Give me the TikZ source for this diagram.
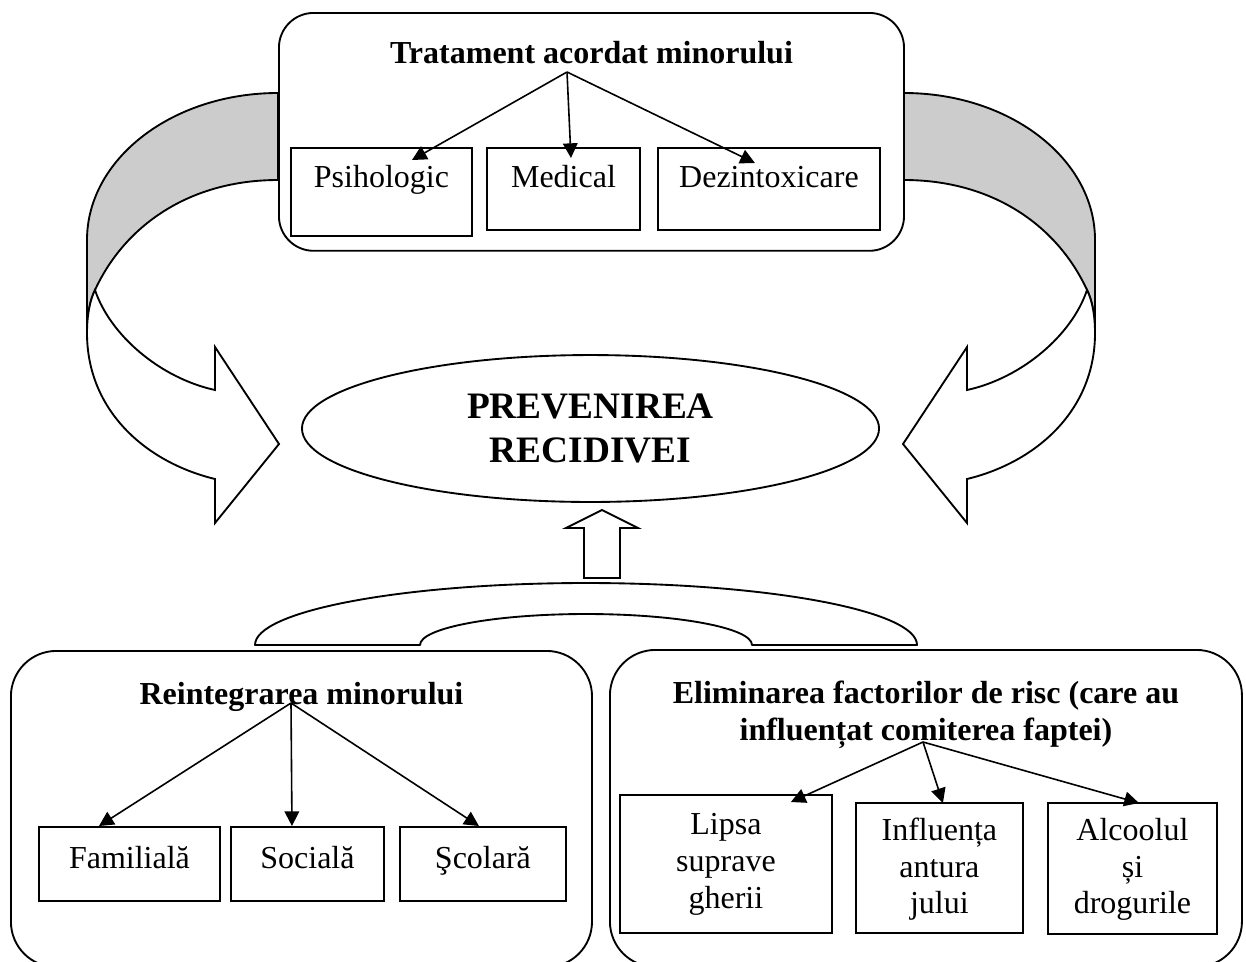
\documentclass[tikz,border=0pt]{standalone}
\usepackage{fontspec}
\setmainfont{Liberation Serif}
\usetikzlibrary{arrows.meta}
\usetikzlibrary{calc}
\usetikzlibrary{shapes}

\begin{document}
\begin{tikzpicture}[x=0.375pt, y=-0.375pt, line width=0.7pt,
        font=\fontsize{12}{13.8}\selectfont,
        frame_style/.style={draw, fill=white, rounded corners=#1, anchor=north west, inner sep=0pt, align=center, font=\fontsize{12}{13.9}\selectfont\bfseries},
        box_style/.style={draw, fill=white, anchor=north west, inner sep=0pt, align=center},
        goal_style/.style={ellipse, draw, fill=white, minimum width=216.4pt, minimum height=55.1pt, inner sep=0pt, align=center, font=\fontsize{14}{16.5}\selectfont\bfseries},
        band_style/.style={draw, fill=gray!40, line join=round},
        turn_style/.style={draw, fill=white, line join=miter},
        edge_style/.style={draw=black, line width=0.6pt, -{Triangle[length=5.5pt,width=5.5pt]}}]

        \useasboundingbox (0,0) rectangle (1246,961);
        \clip (0,0) rectangle (1246,961);
        \fill[white] (0,0) rectangle (1246,961);

        % curved arrows, left one and its mirror
        \foreach \side/\sh in {1/0,-1/1182}{
            \begin{scope}[shift={(\sh,0)}, xscale=\side]
                \path[band_style] (278,93) .. controls (172.5,93) and (87,158.8) .. (87,240) -- (87,333)
                    .. controls (87,315) and (90,300) .. (95,290) .. controls (125,225) and (190,180) .. (278,180) -- cycle;
                \path[turn_style] (95,290) .. controls (110,335) and (160,378) .. (215,390) -- (215,347) -- (279,444)
                    -- (215,523) -- (215,479) .. controls (145,462) and (87,410) .. (87,333)
                    .. controls (87,315) and (90,300) .. (95,290) -- cycle;
            \end{scope}
        }

        \node[frame_style=13pt, minimum width=234.4pt, text height=19.1pt, text depth=70.1pt] (treat) at (278,12) {Tratament acordat minorului};
        \node[frame_style=17pt, minimum width=217.9pt, text height=20.25pt, text depth=98.3pt] (reint) at (10,650) {Reintegrarea minorului};
        \node[frame_style=17pt, minimum width=237pt, text height=34.1pt, text depth=84.75pt] (elim) at (609,649) {Eliminarea factorilor de risc (care au\\influențat comiterea faptei)};

        \node[box_style, minimum width=67.9pt, text height=15pt, text depth=18pt] (psih) at (290,147) {Psihologic};
        \node[box_style, minimum width=57.4pt, text height=15pt, text depth=15.75pt] (med) at (486,147) {Medical};
        \node[box_style, minimum width=83.25pt, text height=15pt, text depth=15.75pt] (dez) at (657,147) {Dezintoxicare};

        \node[box_style, minimum width=67.9pt, text height=15.4pt, text depth=12.4pt] (fam) at (38,826) {Familială};
        \node[box_style, minimum width=57.4pt, text height=15.4pt, text depth=12.4pt] (soc) at (230,826) {Socială};
        \node[box_style, minimum width=62.25pt, text height=15.4pt, text depth=12.4pt] (scol) at (399,826) {Şcolară};

        \node[box_style, minimum width=79.5pt, text height=42.4pt, text depth=9.4pt] (lips) at (619,794) {Lipsa\\suprave\\gherii};
        \node[box_style, minimum width=62.6pt, text height=41.6pt, text depth=7.1pt] (infl) at (855,802) {Influența\\antura\\jului};
        \node[box_style, minimum width=63.4pt, text height=41.6pt, text depth=7.5pt] (alc) at (1047,802) {Alcoolul\\și\\drogurile};

        \node[goal_style] (goal) at (590.5,428.5) {PREVENIREA\\RECIDIVEI};

        % block arrow and brace under it
        \path[turn_style] (584,578) -- (584,528) -- (566,528) -- (602,510) -- (638,528) -- (620,528) -- (620,578) -- cycle;
        \path[turn_style, line join=round] (255,645) .. controls (255,610.8) and (403.2,583) .. (586,583)
            .. controls (768.8,583) and (917,610.8) .. (917,645) -- (752,645)
            .. controls (752,627.9) and (677.7,614) .. (586,614) .. controls (494.3,614) and (420,627.9) .. (420,645) -- cycle;

        \coordinate (tsrc) at (567,72);
        \coordinate (rsrc) at (291,703);
        \coordinate (esrc) at (923,742);
        \draw [edge_style] (tsrc) -- ($(psih.north)+(30.5,13)$);
        \draw [edge_style] (tsrc) -- ($(med.north)+(7.5,11)$);
        \draw [edge_style] (tsrc) -- ($(dez.north)+(-14,16)$);
        \draw [edge_style] (rsrc) -- ($(fam.north)+(-30.5,0)$);
        \draw [edge_style] (rsrc) -- ($(soc.north)+(-15.5,0)$);
        \draw [edge_style] (rsrc) -- ($(scol.north)+(-4,0)$);
        \draw [edge_style] (esrc) -- ($(lips.north)+(65,8)$);
        \draw [edge_style] (esrc) -- ($(infl.north)+(3.5,1)$);
        \draw [edge_style] (esrc) -- ($(alc.north)+(6.5,1)$);
\end{tikzpicture}
\end{document}
